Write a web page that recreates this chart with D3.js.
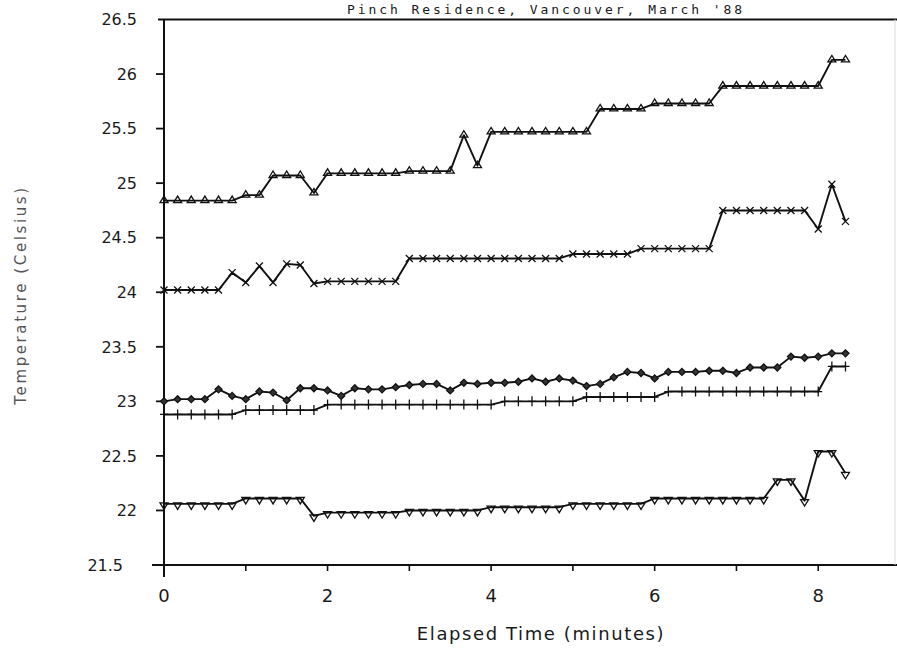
<!DOCTYPE html>
<html>
<head>
<meta charset="utf-8">
<script src="https://cdn.jsdelivr.net/npm/d3@7"></script>
<style>
  body { margin: 0; background: #fff; }
  svg { display: block; }
</style>
</head>
<body>
<div id="chart"></div>
<script>
// readings every 10 seconds
const elapsedSeconds = [0, 10, 20, 30, 40, 50, 60, 70, 80, 90, 100, 110, 120, 130, 140, 150, 160, 170, 180, 190,
    200, 210, 220, 230, 240, 250, 260, 270, 280, 290, 300, 310, 320, 330, 340, 350, 360, 370, 380, 390,
    400, 410, 420, 430, 440, 450, 460, 470, 480, 490, 500];

const triUpTemps = [24.84, 24.84, 24.84, 24.84, 24.84, 24.84, 24.89, 24.89, 25.07, 25.07, 25.07, 24.91,
    25.09, 25.09, 25.09, 25.09, 25.09, 25.09, 25.11, 25.11, 25.11, 25.11, 25.44, 25.16,
    25.47, 25.47, 25.47, 25.47, 25.47, 25.47, 25.47, 25.47, 25.68, 25.68, 25.68, 25.68,
    25.73, 25.73, 25.73, 25.73, 25.73, 25.89, 25.89, 25.89, 25.89, 25.89, 25.89, 25.89, 25.89,
    26.13, 26.13];

const crossTemps = [24.02, 24.02, 24.02, 24.02, 24.02, 24.18, 24.09, 24.24, 24.09, 24.26, 24.25, 24.08,
    24.10, 24.10, 24.10, 24.10, 24.10, 24.10, 24.31, 24.31, 24.31, 24.31, 24.31, 24.31,
    24.31, 24.31, 24.31, 24.31, 24.31, 24.31, 24.35, 24.35, 24.35, 24.35, 24.35,
    24.40, 24.40, 24.40, 24.40, 24.40, 24.40, 24.75, 24.75, 24.75, 24.75, 24.75, 24.75, 24.75,
    24.58, 24.99, 24.65];

const diamondTemps = [23.00, 23.02, 23.02, 23.02, 23.11, 23.05, 23.02, 23.09, 23.08, 23.01, 23.12, 23.12,
    23.10, 23.05, 23.12, 23.11, 23.11, 23.13, 23.15, 23.16, 23.16, 23.10, 23.17, 23.16,
    23.17, 23.17, 23.18, 23.21, 23.18, 23.21, 23.19, 23.14, 23.16, 23.22, 23.27, 23.26,
    23.21, 23.27, 23.27, 23.27, 23.28, 23.28, 23.26, 23.31, 23.31, 23.31, 23.41, 23.40,
    23.41, 23.44, 23.44];

const plusTemps = [22.88, 22.88, 22.88, 22.88, 22.88, 22.88, 22.92, 22.92, 22.92, 22.92, 22.92, 22.92,
    22.97, 22.97, 22.97, 22.97, 22.97, 22.97, 22.97, 22.97, 22.97, 22.97, 22.97, 22.97, 22.97,
    23.00, 23.00, 23.00, 23.00, 23.00, 23.00, 23.04, 23.04, 23.04, 23.04, 23.04, 23.04,
    23.09, 23.09, 23.09, 23.09, 23.09, 23.09, 23.09, 23.09, 23.09, 23.09, 23.09, 23.09,
    23.32, 23.32];

const triDownTemps = [22.06, 22.06, 22.06, 22.06, 22.06, 22.06, 22.11, 22.11, 22.11, 22.11, 22.11, 21.95,
    21.98, 21.98, 21.98, 21.98, 21.98, 21.98, 22.00, 22.00, 22.00, 22.00, 22.00, 22.00,
    22.03, 22.03, 22.03, 22.03, 22.03, 22.03, 22.06, 22.06, 22.06, 22.06, 22.06, 22.06,
    22.11, 22.11, 22.11, 22.11, 22.11, 22.11, 22.11, 22.11, 22.11, 22.28, 22.28, 22.09,
    22.54, 22.54, 22.34];

const yTicks = [21.5, 22, 22.5, 23, 23.5, 24, 24.5, 25, 25.5, 26, 26.5];
const xTicks = [0, 1, 2, 3, 4, 5, 6, 7, 8, 9];
const xLabelled = [0, 2, 4, 6, 8];

const series = [
    {name: 'triUp', temps: triUpTemps},
    {name: 'cross', temps: crossTemps},
    {name: 'diamond', temps: diamondTemps},
    {name: 'plus', temps: plusTemps},
    {name: 'triDown', temps: triDownTemps}
];

// marker outlines, relative to the point
const markerPaths = {
    triUp: 'M-4,2L4,2L0,-4.5Z',
    cross: 'M-3.5,-3.5L3.5,3.5M-3.5,3.5L3.5,-3.5',
    diamond: 'M0,-3.5L3.5,0L0,3.5L-3.5,0Z',
    plus: 'M0,-5L0,5M-4,0L4,0',
    triDown: 'M-4,-1L4,-1L0,5.5Z'
};
const markerFill = {triUp: 'none', cross: 'none', diamond: '#333', plus: 'none', triDown: 'none'};

const width = 897, height = 649;
const margin = {left: 164, top: 19.5, bottom: 84};

const x = d3.scaleLinear().domain([0, 9]).range([margin.left, 900]);
const y = d3.scaleLinear().domain([21.5, 26.5]).range([height - margin.bottom, margin.top]);

const svg = d3.select('#chart').append('svg')
    .attr('width', width)
    .attr('height', height)
    .style('font-family', '"DejaVu Sans", sans-serif');

const ink = '#111';

// frame: top line, left axis, bottom axis
svg.append('line')
    .attr('x1', 158).attr('x2', width)
    .attr('y1', y(26.5)).attr('y2', y(26.5))
    .attr('stroke', ink).attr('stroke-width', 1.8);
svg.append('line')
    .attr('x1', x(0)).attr('x2', x(0))
    .attr('y1', y(26.5)).attr('y2', y(21.5) + 12)
    .attr('stroke', ink).attr('stroke-width', 2);
svg.append('line')
    .attr('x1', 152).attr('x2', width)
    .attr('y1', y(21.5)).attr('y2', y(21.5))
    .attr('stroke', ink).attr('stroke-width', 2);
svg.append('line')
    .attr('x1', 895).attr('x2', 895)
    .attr('y1', y(26.5)).attr('y2', y(21.5))
    .attr('stroke', '#ddd').attr('stroke-width', 1);

// y ticks
svg.selectAll('.ytick')
    .data(yTicks.filter(d => d !== 21.5 && d !== 26.5))
    .enter().append('line')
    .attr('x1', x(0) - 8).attr('x2', x(0))
    .attr('y1', d => y(d)).attr('y2', d => y(d))
    .attr('stroke', ink).attr('stroke-width', 1.8);

svg.selectAll('.ylab')
    .data(yTicks)
    .enter().append('text')
    .attr('x', d => d === 21.5 ? 123 : 137)
    .attr('y', d => y(d))
    .attr('dy', '0.36em')
    .attr('text-anchor', 'end')
    .attr('font-size', '16px')
    .attr('fill', '#1a1a1a')
    .text(d => d);

// x ticks
svg.selectAll('.xtick')
    .data(xTicks.filter(d => d > 0))
    .enter().append('line')
    .attr('x1', d => x(d)).attr('x2', d => x(d))
    .attr('y1', y(21.5)).attr('y2', y(21.5) + 6)
    .attr('stroke', ink).attr('stroke-width', 1.6);

svg.selectAll('.xlab')
    .data(xLabelled)
    .enter().append('text')
    .attr('x', d => x(d))
    .attr('y', 602)
    .attr('text-anchor', 'middle')
    .attr('font-size', '18px')
    .attr('fill', '#1a1a1a')
    .text(d => d);

// axis titles
svg.append('text')
    .attr('x', 541).attr('y', 640)
    .attr('text-anchor', 'middle')
    .attr('font-size', '18px')
    .attr('letter-spacing', '1.6px')
    .attr('fill', '#1a1a1a')
    .text('Elapsed Time (minutes)');

svg.append('text')
    .attr('transform', 'translate(26,295) rotate(-90)')
    .attr('text-anchor', 'middle')
    .attr('font-size', '15px')
    .attr('letter-spacing', '2.6px')
    .attr('fill', '#555')
    .text('Temperature (Celsius)');

svg.append('text')
    .attr('x', 347).attr('y', 14)
    .attr('font-family', '"DejaVu Sans Mono", monospace')
    .attr('font-size', '13px')
    .attr('textLength', 395)
    .attr('lengthAdjust', 'spacing')
    .attr('fill', '#1a1a1a')
    .text("Pinch Residence, Vancouver, March '88");

// series lines and markers
const line = d3.line()
    .x((d, i) => x(elapsedSeconds[i] / 60))
    .y(d => y(d));

series.forEach(s => {
    svg.append('path')
        .datum(s.temps)
        .attr('fill', 'none')
        .attr('stroke', ink)
        .attr('stroke-width', 1.9)
        .attr('stroke-linejoin', 'round')
        .attr('d', line);

    svg.append('g')
        .selectAll('path')
        .data(s.temps)
        .enter().append('path')
        .attr('transform', (d, i) => `translate(${x(elapsedSeconds[i] / 60)},${y(d)})`)
        .attr('d', markerPaths[s.name])
        .attr('fill', markerFill[s.name])
        .attr('stroke', ink)
        .attr('stroke-width', 1.3);
});
</script>
</body>
</html>
